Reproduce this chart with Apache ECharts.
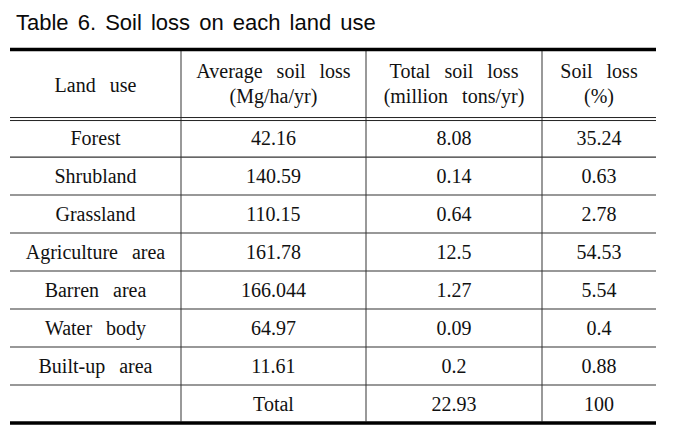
<!DOCTYPE html>
<html><head><meta charset="utf-8">
<script src="https://cdn.jsdelivr.net/npm/echarts@6/dist/echarts.min.js"></script>
<style>
html,body{margin:0;padding:0;background:#fff;}
#chart{width:676px;height:427px;}
#chart text[style*="Serif"]{word-spacing:9px;}
#chart text[style*="Sans"]{word-spacing:3px;}
</style></head><body><div id="chart"></div>
<script>
// ---- data ----
const titleText = 'Table 6. Soil loss on each land use';
const columnHeaders = [['Land use'], ['Average soil loss', '(Mg/ha/yr)'], ['Total soil loss', '(million tons/yr)'], ['Soil loss', '(%)']];
const landUse = ['Forest', 'Shrubland', 'Grassland', 'Agriculture area', 'Barren area', 'Water body', 'Built-up area'];
const avgSoilLoss = [42.16, 140.59, 110.15, 161.78, 166.044, 64.97, 11.61];
const totalSoilLoss = [8.08, 0.14, 0.64, 12.5, 1.27, 0.09, 0.2];
const soilLossPct = [35.24, 0.63, 2.78, 54.53, 5.54, 0.4, 0.88];
const totalRow = ['', 'Total', 22.93, 100];

// ---- layout (table units) ----
const COL_EDGES = [0, 171, 356, 532, 646];
const HEADER_H = 1.83;
const rows = landUse.map((n, i) => [n, String(avgSoilLoss[i]), String(totalSoilLoss[i]), String(soilLossPct[i])]);
rows.push(totalRow.map(String));
const N_ROWS = rows.length;
const colCenter = c => (COL_EDGES[c] + COL_EDGES[c + 1]) / 2;

const TXT = '#111';
const cellFont = { fontFamily: '"Liberation Serif", "Times New Roman", serif', fontSize: 20 };

function txt(x, y, s) {
  return { type: 'text', style: Object.assign({ text: s, x: x, y: y, fill: TXT, align: 'center', verticalAlign: 'middle', textAlign: 'center', textVerticalAlign: 'middle' }, cellFont) };
}
function ln(x1, y1, x2, y2, w, c) {
  return { type: 'line', shape: { x1, y1, x2, y2 }, style: { stroke: c, lineWidth: w } };
}

const chart = echarts.init(document.getElementById('chart'), null, { renderer: 'svg' });
chart.setOption({
  animation: false,
  backgroundColor: '#fff',
  title: {
    text: titleText, left: 11, top: 6,
    textStyle: { fontFamily: '"Liberation Sans", Arial, sans-serif', fontSize: 22, fontWeight: 'normal', color: '#0a0a0a' }
  },
  grid: { left: 10, top: 49.5, width: 646, height: 373.5 },
  xAxis: { type: 'value', min: 0, max: 646, show: false },
  yAxis: { type: 'value', min: 0, max: HEADER_H + N_ROWS, inverse: true, show: false },
  series: [
    {
      type: 'custom', name: 'frame', clip: false,
      data: [[0, 0]],
      renderItem: function (params, api) {
        const ch = [];
        const L = api.coord([0, 0]), R = api.coord([646, 0]);
        const top = L[1];
        const bottom = api.coord([0, HEADER_H + N_ROWS])[1];
        const hEnd = api.coord([0, HEADER_H])[1];
        for (let c = 1; c < COL_EDGES.length - 1; c++) {
          const x = api.coord([COL_EDGES[c], 0])[0];
          ch.push(ln(x, top + 1.5, x, bottom - 1.5, 1.2, '#555'));
        }
        ch.push(ln(L[0], top, R[0], top, 3.5, '#000'));
        ch.push(ln(L[0], hEnd - 1.5, R[0], hEnd - 1.5, 1, '#222'));
        ch.push(ln(L[0], hEnd + 1.5, R[0], hEnd + 1.5, 1, '#222'));
        ch.push(ln(L[0], bottom, R[0], bottom, 3.5, '#000'));
        columnHeaders.forEach((lines, c) => {
          const x = api.coord([colCenter(c), 0])[0];
          const mid = api.coord([0, HEADER_H / 2])[1];
          if (lines.length === 1) {
            ch.push(txt(x, mid + 1, lines[0]));
          } else {
            ch.push(txt(x, mid - 13, lines[0]));
            ch.push(txt(x, mid + 12, lines[1]));
          }
        });
        return { type: 'group', children: ch };
      }
    },
    {
      type: 'custom', name: 'rows', clip: false,
      data: rows.map((r, i) => [0, HEADER_H + i]),
      renderItem: function (params, api) {
        const y0 = api.value(1);
        const pTop = api.coord([0, y0]);
        const pBot = api.coord([646, y0 + 1]);
        const yc = (pTop[1] + pBot[1]) / 2;
        const r = rows[params.dataIndex];
        const ch = [];
        for (let c = 0; c < 4; c++) {
          if (r[c] !== '') ch.push(txt(api.coord([colCenter(c), 0])[0], yc, r[c]));
        }
        if (params.dataIndex < N_ROWS - 1) ch.push(ln(pTop[0], pBot[1], pBot[0], pBot[1], 1.2, '#333'));
        return { type: 'group', children: ch };
      }
    }
  ]
});
</script></body></html>
